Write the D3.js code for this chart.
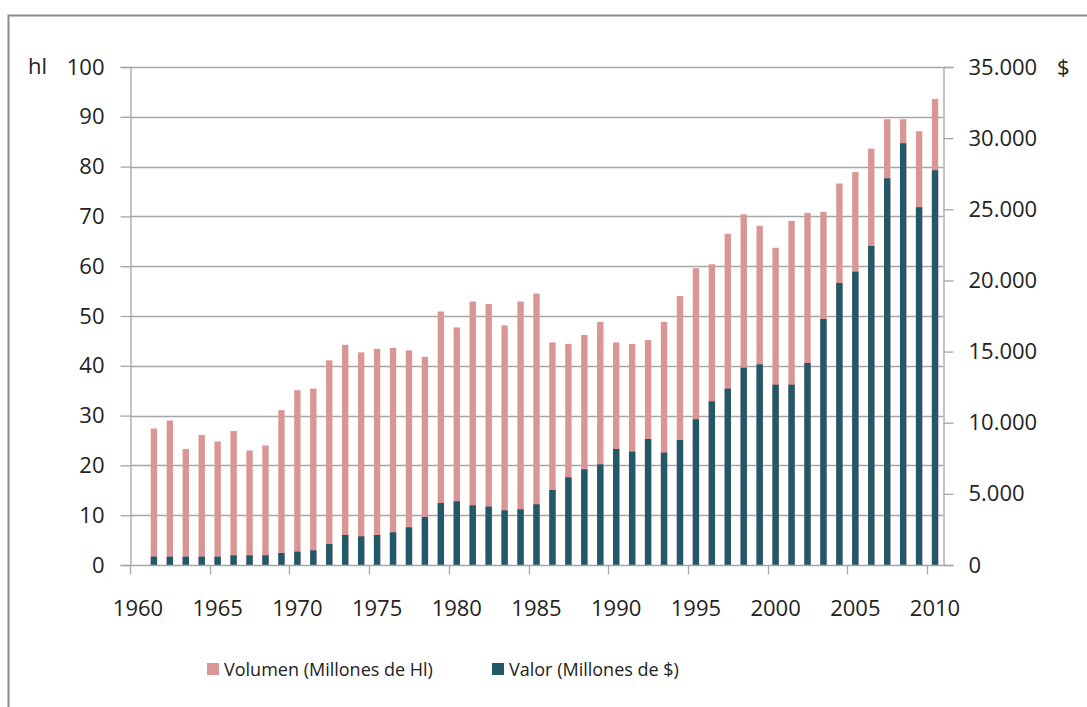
<!DOCTYPE html>
<html>
<head>
	<meta charset="utf-8">
	<title>Volumen y valor</title>
	<script src="https://cdn.jsdelivr.net/npm/d3@7"></script>
	<style>
		body { margin: 0; background: #fff; }
		text { font-family: "Open Sans", "DejaVu Sans", sans-serif; fill: #222; }
	</style>
</head>
<body>
	<script>
		// years on the category axis (1960 slot is empty)
		var years = d3.range(1960, 2011);
		var dataYears = d3.range(1961, 2011);

		// Volumen (Millones de Hl), left axis
		var volumen = [27.4, 29.0, 23.3, 26.1, 24.8, 26.9, 23.0, 24.0, 31.1, 35.1,
			35.4, 41.1, 44.2, 42.7, 43.4, 43.6, 43.1, 41.8, 50.9, 47.7,
			52.9, 52.4, 48.1, 52.9, 54.5, 44.7, 44.4, 46.2, 48.8, 44.7,
			44.4, 45.2, 48.8, 54.0, 59.6, 60.4, 66.5, 70.4, 68.1, 63.7,
			69.1, 70.7, 70.9, 76.6, 78.9, 83.6, 89.5, 89.5, 87.1, 93.6];

		// Valor (Millones de $), right axis
		var valor = [583, 583, 583, 583, 583, 680, 680, 680, 843, 937,
			1030, 1476, 2108, 2015, 2108, 2296, 2648, 3373, 4357, 4475,
			4194, 4100, 3842, 3912, 4264, 5271, 6162, 6725, 7077, 8153,
			7965, 8855, 7895, 8785, 10240, 11505, 12390, 13867, 14103, 12672,
			12672, 14197, 17289, 19819, 20614, 22420, 27178, 29638, 25140, 27740];

		var leftTicks = d3.range(0, 101, 10);
		var rightTicks = d3.range(0, 35001, 5000);
		var labelYears = [1960, 1965, 1970, 1975, 1980, 1985, 1990, 1995, 2000, 2005, 2010];

		var seriesNames = ['Volumen (Millones de Hl)', 'Valor (Millones de $)'];
		var colors = ['#d99694', '#215968'];

		var W = 1087, H = 707;
		var plot = { left: 130, right: 943, top: 67, bottom: 565 };
		var gridColor = '#a6a6a6';

		var svg = d3.select('body').append('svg')
			.attr('width', W)
			.attr('height', H);

		// outer chart frame (right and bottom edges fall outside the picture)
		svg.append('rect')
			.attr('x', 8.5).attr('y', 15.5)
			.attr('width', W + 20).attr('height', H + 20)
			.attr('fill', 'none')
			.attr('stroke', '#8c8c8c')
			.attr('stroke-width', 2);

		var x = d3.scaleBand().domain(years).range([plot.left, plot.right]).paddingInner(0.6).paddingOuter(0.3);
		var slot = d3.scaleBand().domain(years).range([plot.left, plot.right]);
		var yL = d3.scaleLinear().domain([0, 100]).range([plot.bottom, plot.top]);
		var yR = d3.scaleLinear().domain([0, 35000]).range([plot.bottom, plot.top]);

		// gridlines
		svg.append('g')
			.selectAll('line')
			.data(leftTicks.slice(1))
			.enter()
			.append('line')
			.attr('x1', plot.left).attr('x2', plot.right)
			.attr('y1', function(d) { return Math.round(yL(d)) + 0.5; })
			.attr('y2', function(d) { return Math.round(yL(d)) + 0.5; })
			.attr('stroke', gridColor)
			.attr('stroke-width', 1.3);

		// bars: volumen behind, valor in front
		svg.append('g')
			.selectAll('rect')
			.data(dataYears)
			.enter()
			.append('rect')
			.attr('x', function(d) { return x(d); })
			.attr('width', x.bandwidth())
			.attr('y', function(d, i) { return yL(volumen[i]); })
			.attr('height', function(d, i) { return plot.bottom - yL(volumen[i]); })
			.attr('fill', colors[0]);

		svg.append('g')
			.selectAll('rect')
			.data(dataYears)
			.enter()
			.append('rect')
			.attr('x', function(d) { return x(d); })
			.attr('width', x.bandwidth())
			.attr('y', function(d, i) { return yR(valor[i]); })
			.attr('height', function(d, i) { return plot.bottom - yR(valor[i]); })
			.attr('fill', colors[1]);

		// left axis
		var gl = svg.append('g').attr('transform', 'translate(' + (plot.left + 0.5) + ',0)')
			.call(d3.axisLeft(yL).tickValues(leftTicks).tickSize(10).tickPadding(16));
		// right axis
		var gr = svg.append('g').attr('transform', 'translate(' + (plot.right + 0.5) + ',0)')
			.call(d3.axisRight(yR).tickValues(rightTicks).tickSize(10).tickPadding(15)
				.tickFormat(function(d) { return d === 0 ? '0' : d3.format(',')(d).replace(/,/g, '.'); }));
		// bottom axis: ticks at slot edges, labels at slot centres
		var gb = svg.append('g').attr('transform', 'translate(0,' + (plot.bottom + 0.5) + ')');
		gb.append('line')
			.attr('x1', plot.left).attr('x2', plot.right)
			.attr('stroke', gridColor).attr('stroke-width', 1.3);
		gb.selectAll('.tk')
			.data(labelYears)
			.enter()
			.append('line')
			.attr('class', 'tk')
			.attr('x1', function(d) { return Math.round(slot(d)) + 0.5; })
			.attr('x2', function(d) { return Math.round(slot(d)) + 0.5; })
			.attr('y1', 0).attr('y2', 9)
			.attr('stroke', gridColor).attr('stroke-width', 1.3);
		gb.selectAll('.lb')
			.data(labelYears)
			.enter()
			.append('text')
			.attr('class', 'lb')
			.attr('x', function(d) { return slot(d) + slot.bandwidth() / 2; })
			.attr('y', 50)
			.attr('text-anchor', 'middle')
			.attr('font-size', 22)
			.text(function(d) { return d; });

		[gl, gr].forEach(function(g) {
			g.select('.domain').attr('stroke', gridColor).attr('stroke-width', 1.3);
			g.selectAll('.tick line').attr('stroke', gridColor).attr('stroke-width', 1.3);
			g.selectAll('.tick text')
				.attr('font-size', 22)
				.attr('font-family', '"Open Sans", "DejaVu Sans", sans-serif')
				.attr('fill', '#222');
		});

		// unit labels
		svg.append('text').attr('x', 28).attr('y', 74).attr('font-size', 22).text('hl');
		svg.append('text').attr('x', 1057).attr('y', 75).attr('font-size', 22).text('$');

		// legend
		var legendX = [207, 492];
		var lg = svg.append('g')
			.selectAll('g')
			.data(seriesNames)
			.enter()
			.append('g')
			.attr('transform', function(d, i) { return 'translate(' + legendX[i] + ',663)'; });
		lg.append('rect')
			.attr('width', 12).attr('height', 12)
			.attr('fill', function(d, i) { return colors[i]; });
		lg.append('text')
			.attr('x', 17).attr('y', 13)
			.attr('font-size', 18)
			.text(function(d) { return d; });
	</script>
</body>
</html>
